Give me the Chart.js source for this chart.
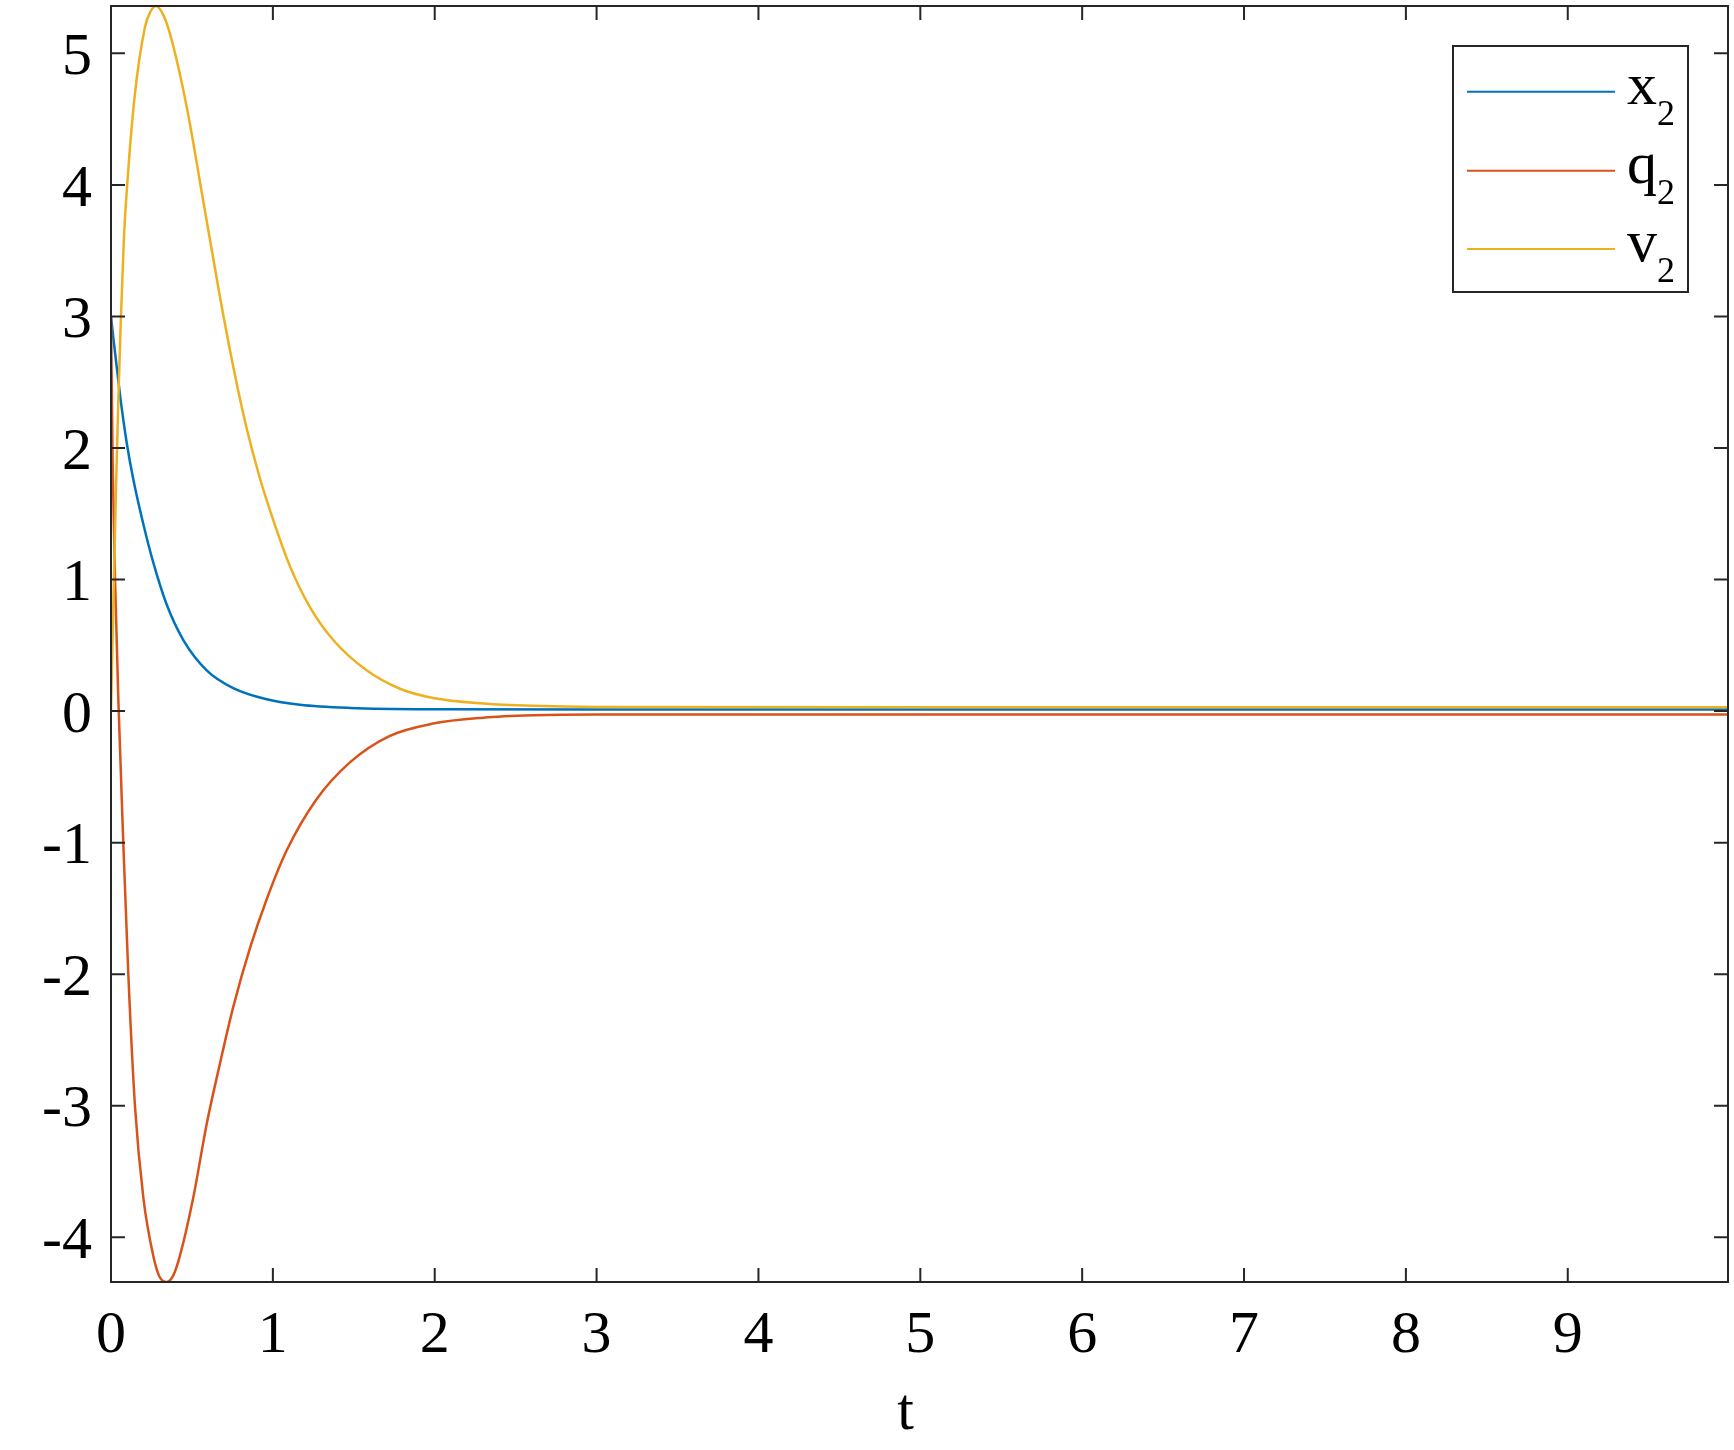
<!DOCTYPE html>
<html>
<head>
<meta charset="utf-8">
<script src="https://cdn.jsdelivr.net/npm/chart.js@4.4.1/dist/chart.umd.min.js"></script>
<style>
html, body { margin: 0; padding: 0; background: #ffffff; }
#wrap { width: 1734px; height: 1450px; position: relative; }
</style>
</head>
<body>
<div id="wrap"><canvas id="c"></canvas></div>
<script>
// ---- data ----
const tX = [0, 0.014, 0.056, 0.097, 0.138, 0.2, 0.261, 0.344, 0.447, 0.591, 0.755, 0.962, 1.167, 1.476, 2.0, 3.0, 5.0, 9.99];
const x2 = [3, 2.84, 2.40, 2.04, 1.76, 1.42, 1.13, 0.81, 0.54, 0.31, 0.175, 0.09, 0.048, 0.024, 0.014, 0.012, 0.012, 0.012];

const tQ = [0, 0.01, 0.025, 0.045, 0.076, 0.107, 0.148, 0.2, 0.261, 0.30, 0.344, 0.385, 0.426, 0.508, 0.591, 0.673, 0.755, 0.859, 0.962, 1.085, 1.27, 1.476, 1.72, 1.99, 2.3, 2.61, 3.0, 5.0, 9.99];
const q2 = [3, 1.9, 1.0, 0.1, -1.0, -2.0, -3.0, -3.7, -4.14, -4.30, -4.34, -4.29, -4.14, -3.70, -3.14, -2.68, -2.25, -1.80, -1.43, -1.06, -0.67, -0.39, -0.19, -0.095, -0.05, -0.032, -0.026, -0.025, -0.025];

const tV = [0, 0.015, 0.03, 0.045, 0.06, 0.08, 0.1, 0.145, 0.21, 0.245, 0.278, 0.32, 0.364, 0.447, 0.50, 0.55, 0.673, 0.755, 0.838, 0.92, 1.003, 1.106, 1.229, 1.373, 1.579, 1.785, 1.99, 2.3, 2.61, 3.0, 5.0, 9.99];
const v2 = [0, 0.85, 1.65, 2.35, 2.95, 3.6, 4.0, 4.66, 5.2, 5.32, 5.36, 5.3, 5.15, 4.72, 4.38, 4.02, 3.15, 2.62, 2.15, 1.77, 1.45, 1.10, 0.79, 0.54, 0.31, 0.17, 0.10, 0.058, 0.04, 0.032, 0.03, 0.03];

const seriesLabels = ['x_2', 'q_2', 'v_2'];
const seriesColors = ['#0072BD', '#D95319', '#EDB120'];
const xTitle = 't';
const tickStep = 1;

// ---- build chart ----
const toPts = (ts, vs) => ts.map((t, i) => ({ x: t, y: vs[i] }));
const allVals = x2.concat(q2, v2);
const yMin = Math.min(...allVals);
const yMax = Math.max(...allVals);
const tMax = Math.max(...tX, ...tQ, ...tV);

const FONT = '"Liberation Serif", "Times New Roman", serif';
Chart.defaults.font.family = FONT;
Chart.defaults.color = '#000000';

const axisColor = '#262626';

const matlabBox = {
  id: 'matlabBox',
  afterDraw(chart) {
    const { ctx, chartArea: a, scales } = chart;
    ctx.save();
    // axes box
    ctx.strokeStyle = axisColor;
    ctx.lineWidth = 2;
    ctx.strokeRect(a.left, a.top, a.right - a.left, a.bottom - a.top);
    // inward ticks on all four sides
    const L = 14;
    ctx.beginPath();
    scales.x.ticks.forEach(t => {
      const p = scales.x.getPixelForValue(t.value);
      ctx.moveTo(p, a.bottom); ctx.lineTo(p, a.bottom - L);
      ctx.moveTo(p, a.top); ctx.lineTo(p, a.top + L);
    });
    scales.y.ticks.forEach(t => {
      const p = scales.y.getPixelForValue(t.value);
      ctx.moveTo(a.left, p); ctx.lineTo(a.left + L, p);
      ctx.moveTo(a.right, p); ctx.lineTo(a.right - L, p);
    });
    ctx.stroke();

    // x axis label (slightly left of centre, as in the reference)
    ctx.fillStyle = '#000000';
    ctx.font = '60px ' + FONT;
    ctx.textAlign = 'center';
    ctx.textBaseline = 'alphabetic';
    ctx.fillText(xTitle, (a.left + a.right) / 2 - 14, 1429);

    // legend box (MATLAB style, northeast)
    const bw = 235, bh = 246;
    const bx = a.right - 40 - bw, by = a.top + 40;
    ctx.fillStyle = '#ffffff';
    ctx.fillRect(bx, by, bw, bh);
    ctx.strokeStyle = axisColor;
    ctx.lineWidth = 2;
    ctx.strokeRect(bx, by, bw, bh);
    const rowY = [by + 45.7, by + 124.7, by + 203];
    chart.data.datasets.forEach((ds, i) => {
      const y = rowY[i];
      ctx.strokeStyle = ds.borderColor;
      ctx.lineWidth = 2;
      ctx.beginPath();
      ctx.moveTo(bx + 14, y); ctx.lineTo(bx + 162, y);
      ctx.stroke();
      const parts = ds.label.split('_');
      ctx.fillStyle = '#000000';
      ctx.textAlign = 'left';
      ctx.textBaseline = 'alphabetic';
      ctx.font = '60px ' + FONT;
      const tx = bx + 174;
      ctx.fillText(parts[0], tx, y + 12);
      const w = ctx.measureText(parts[0]).width;
      if (parts[1]) {
        ctx.font = '36px ' + FONT;
        ctx.fillText(parts[1], tx + w, y + 33);
      }
    });
    ctx.restore();
  }
};

const zeroPad = s => { s.paddingTop = 0; s.paddingBottom = 0; s.paddingLeft = 0; s.paddingRight = 0; };

new Chart(document.getElementById('c'), {
  type: 'line',
  data: {
    datasets: [
      { label: seriesLabels[0], data: toPts(tX, x2), borderColor: seriesColors[0], order: 2 },
      { label: seriesLabels[1], data: toPts(tQ, q2), borderColor: seriesColors[1], order: 1 },
      { label: seriesLabels[2], data: toPts(tV, v2), borderColor: seriesColors[2], order: 0 }
    ].map(d => Object.assign(d, { borderWidth: 2.5, pointRadius: 0, fill: false, cubicInterpolationMode: 'monotone' }))
  },
  options: {
    responsive: true,
    maintainAspectRatio: false,
    animation: false,
    events: [],
    layout: { padding: { top: 6, right: 6, left: 0, bottom: 0 } },
    plugins: { legend: { display: false }, tooltip: { enabled: false } },
    scales: {
      x: {
        type: 'linear',
        min: 0,
        max: tMax,
        afterFit(s) { s.height = 168; zeroPad(s); },
        grid: { display: false, drawTicks: false },
        border: { display: false },
        ticks: { stepSize: tickStep, includeBounds: false, padding: 18, maxRotation: 0, autoSkip: false, color: '#000', font: { size: 60 } },
        title: { display: false }
      },
      y: {
        type: 'linear',
        min: yMin,
        max: yMax,
        afterFit(s) { s.width = 111; zeroPad(s); },
        grid: { display: false, drawTicks: false },
        border: { display: false },
        ticks: { stepSize: tickStep, includeBounds: false, padding: 19, labelOffset: 5, autoSkip: false, color: '#000', font: { size: 60 } }
      }
    }
  },
  plugins: [matlabBox]
});
</script>
</body>
</html>
